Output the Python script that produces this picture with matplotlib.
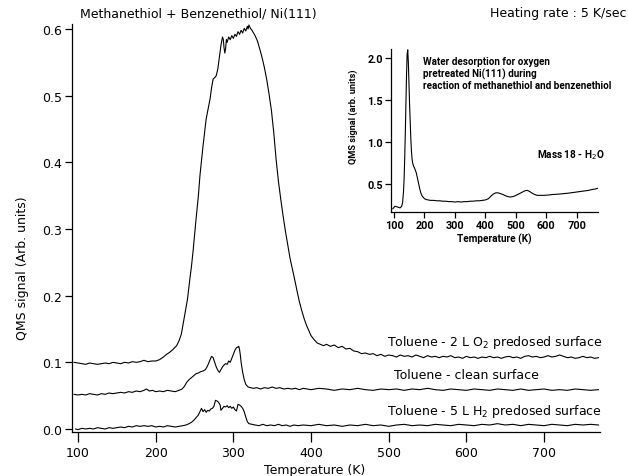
import matplotlib
matplotlib.use("Agg")
import matplotlib.pyplot as plt

# ---------------- main data: (temperature K, QMS signal) ----------------
toluene_o2 = [
    (95, 0.100), (100, 0.099), (105, 0.098), (110, 0.097), (115, 0.099), (120, 0.098), (125, 0.097),
    (130, 0.098), (135, 0.099), (140, 0.098), (145, 0.100), (150, 0.099), (155, 0.098), (160, 0.100),
    (165, 0.099), (170, 0.101), (175, 0.100), (180, 0.101), (185, 0.103), (190, 0.101), (195, 0.102),
    (200, 0.102), (205, 0.104), (210, 0.108), (214, 0.112), (218, 0.115), (222, 0.119), (227, 0.125),
    (230, 0.132), (233, 0.142), (235, 0.155), (238, 0.175), (241, 0.195), (244, 0.225), (246, 0.243),
    (248, 0.265), (250, 0.290), (252, 0.315), (255, 0.350), (257, 0.380), (259, 0.403), (261, 0.425),
    (263, 0.445), (265, 0.465), (268, 0.483), (270, 0.495), (272, 0.512), (274, 0.525), (276, 0.527),
    (278, 0.530), (280, 0.540), (282, 0.558), (284, 0.575), (286, 0.588), (287, 0.585), (288, 0.572),
    (289, 0.564), (290, 0.570), (291, 0.584), (292, 0.580), (294, 0.588), (296, 0.584), (298, 0.590),
    (300, 0.586), (302, 0.592), (304, 0.589), (306, 0.596), (308, 0.592), (310, 0.598), (312, 0.594),
    (314, 0.601), (316, 0.597), (318, 0.604), (319, 0.600), (320, 0.606), (322, 0.601), (324, 0.598),
    (326, 0.594), (328, 0.590), (331, 0.582), (334, 0.570), (337, 0.557), (340, 0.542), (343, 0.524),
    (346, 0.502), (349, 0.478), (352, 0.445), (355, 0.405), (358, 0.372), (361, 0.345), (364, 0.320),
    (367, 0.297), (370, 0.276), (373, 0.256), (376, 0.240), (379, 0.224), (382, 0.207), (385, 0.191),
    (388, 0.178), (391, 0.166), (394, 0.156), (397, 0.148), (400, 0.140), (404, 0.134), (408, 0.129),
    (412, 0.127), (416, 0.125), (420, 0.127), (425, 0.124), (430, 0.126), (435, 0.122), (440, 0.124),
    (445, 0.120), (450, 0.121), (455, 0.117), (460, 0.116), (465, 0.113), (470, 0.114), (475, 0.112),
    (480, 0.113), (485, 0.110), (490, 0.112), (495, 0.109), (500, 0.111), (505, 0.110), (510, 0.108),
    (515, 0.111), (520, 0.109), (525, 0.110), (530, 0.108), (535, 0.111), (540, 0.109), (545, 0.107),
    (550, 0.110), (555, 0.108), (560, 0.109), (565, 0.107), (570, 0.109), (575, 0.108), (580, 0.110),
    (585, 0.107), (590, 0.108), (595, 0.106), (600, 0.109), (605, 0.107), (610, 0.108), (615, 0.106),
    (620, 0.108), (625, 0.107), (630, 0.109), (635, 0.107), (640, 0.108), (645, 0.106), (650, 0.108),
    (655, 0.109), (660, 0.107), (665, 0.108), (670, 0.106), (675, 0.109), (680, 0.110), (685, 0.108),
    (690, 0.109), (695, 0.107), (700, 0.108), (705, 0.110), (710, 0.108), (715, 0.109), (720, 0.111),
    (725, 0.109), (730, 0.107), (735, 0.108), (740, 0.106), (745, 0.107), (750, 0.109), (755, 0.107),
    (760, 0.108), (765, 0.106), (770, 0.107),
]

toluene_clean = [
    (95, 0.052), (100, 0.051), (105, 0.052), (110, 0.051), (115, 0.053), (120, 0.052), (125, 0.051),
    (130, 0.053), (135, 0.052), (140, 0.054), (145, 0.053), (150, 0.054), (155, 0.055), (160, 0.054),
    (165, 0.056), (170, 0.055), (175, 0.057), (180, 0.056), (185, 0.058), (188, 0.060), (192, 0.057),
    (196, 0.058), (200, 0.056), (205, 0.057), (210, 0.056), (215, 0.058), (220, 0.057), (225, 0.056),
    (230, 0.058), (234, 0.060), (237, 0.064), (240, 0.070), (243, 0.074), (246, 0.077), (249, 0.080),
    (252, 0.083), (255, 0.084), (258, 0.086), (261, 0.087), (264, 0.089), (266, 0.093), (268, 0.098),
    (270, 0.104), (272, 0.109), (274, 0.107), (276, 0.100), (278, 0.093), (280, 0.088), (282, 0.085),
    (284, 0.089), (286, 0.093), (288, 0.096), (290, 0.098), (292, 0.097), (294, 0.102), (296, 0.100),
    (298, 0.106), (300, 0.112), (302, 0.118), (304, 0.122), (306, 0.123), (307, 0.124), (308, 0.119),
    (309, 0.111), (310, 0.100), (312, 0.085), (314, 0.074), (316, 0.067), (319, 0.063), (322, 0.062),
    (326, 0.061), (330, 0.062), (335, 0.060), (340, 0.062), (345, 0.061), (350, 0.063), (355, 0.061),
    (360, 0.062), (365, 0.060), (370, 0.061), (375, 0.060), (380, 0.061), (385, 0.059), (390, 0.061),
    (395, 0.060), (400, 0.059), (410, 0.061), (420, 0.060), (430, 0.058), (440, 0.060), (450, 0.059),
    (460, 0.061), (470, 0.059), (480, 0.058), (490, 0.060), (500, 0.059), (510, 0.060), (520, 0.058),
    (530, 0.060), (540, 0.059), (550, 0.061), (560, 0.059), (570, 0.058), (580, 0.060), (590, 0.059),
    (600, 0.058), (610, 0.060), (620, 0.059), (630, 0.058), (640, 0.060), (650, 0.059), (660, 0.058),
    (670, 0.060), (680, 0.058), (690, 0.059), (700, 0.060), (710, 0.058), (720, 0.059), (730, 0.058),
    (740, 0.060), (750, 0.059), (760, 0.058), (770, 0.059),
]

toluene_h2 = [
    (97, 0.000), (100, -0.001), (105, 0.001), (110, 0.000), (115, 0.001), (120, 0.000), (125, 0.002),
    (130, 0.001), (135, 0.000), (140, 0.002), (145, 0.001), (150, 0.002), (155, 0.003), (160, 0.002),
    (165, 0.004), (170, 0.003), (175, 0.005), (180, 0.004), (185, 0.005), (190, 0.004), (195, 0.005),
    (200, 0.003), (205, 0.004), (210, 0.003), (215, 0.005), (220, 0.004), (225, 0.003), (230, 0.004),
    (235, 0.005), (239, 0.006), (243, 0.008), (246, 0.010), (249, 0.013), (252, 0.017), (255, 0.021),
    (257, 0.026), (259, 0.031), (261, 0.026), (263, 0.029), (265, 0.025), (267, 0.028), (269, 0.027),
    (271, 0.030), (273, 0.031), (275, 0.034), (277, 0.043), (279, 0.042), (281, 0.040), (283, 0.036),
    (284, 0.028), (286, 0.031), (288, 0.034), (290, 0.033), (292, 0.035), (294, 0.032), (296, 0.034),
    (298, 0.031), (300, 0.033), (302, 0.029), (304, 0.027), (306, 0.037), (308, 0.036), (310, 0.034),
    (312, 0.031), (314, 0.026), (316, 0.018), (318, 0.011), (320, 0.008), (324, 0.007), (328, 0.006),
    (333, 0.005), (338, 0.007), (343, 0.005), (348, 0.006), (353, 0.005), (358, 0.007), (363, 0.005),
    (368, 0.006), (373, 0.004), (378, 0.006), (383, 0.005), (390, 0.006), (400, 0.005), (410, 0.007),
    (420, 0.005), (430, 0.006), (440, 0.004), (450, 0.006), (460, 0.005), (470, 0.007), (480, 0.005),
    (490, 0.006), (500, 0.004), (510, 0.006), (520, 0.007), (530, 0.005), (540, 0.006), (550, 0.005),
    (560, 0.007), (570, 0.006), (580, 0.005), (590, 0.007), (600, 0.006), (610, 0.005), (620, 0.007),
    (630, 0.006), (640, 0.008), (650, 0.006), (660, 0.007), (670, 0.005), (680, 0.007), (690, 0.006),
    (700, 0.005), (710, 0.007), (720, 0.006), (730, 0.005), (740, 0.007), (750, 0.006), (760, 0.007),
    (770, 0.006),
]

x_ticks = [100, 200, 300, 400, 500, 600, 700]
y_ticks = [0.0, 0.1, 0.2, 0.3, 0.4, 0.5, 0.6]

# ---------------- inset data: water (mass 18) ----------------
water_h2o = [
    (96, 0.20), (103, 0.23), (112, 0.22), (120, 0.21), (125, 0.23), (128, 0.27), (131, 0.40), (133, 0.55),
    (135, 0.80), (137, 1.10), (139, 1.45), (141, 1.80), (143, 2.05), (145, 2.10), (147, 1.95), (149, 1.70),
    (151, 1.45), (153, 1.25), (155, 1.05), (157, 0.90), (159, 0.80), (161, 0.75), (164, 0.71), (167, 0.69),
    (170, 0.66), (173, 0.63), (176, 0.58), (179, 0.53), (182, 0.48), (185, 0.43), (188, 0.39), (191, 0.36),
    (195, 0.34), (200, 0.32), (206, 0.31), (212, 0.305), (220, 0.30), (230, 0.30), (240, 0.295),
    (250, 0.295), (260, 0.29), (270, 0.29), (280, 0.285), (290, 0.285), (300, 0.28), (310, 0.285),
    (320, 0.28), (330, 0.285), (340, 0.285), (350, 0.29), (360, 0.29), (370, 0.295), (380, 0.295),
    (390, 0.30), (400, 0.305), (410, 0.32), (418, 0.35), (426, 0.375), (434, 0.39), (442, 0.39),
    (450, 0.38), (458, 0.37), (466, 0.355), (474, 0.345), (482, 0.34), (490, 0.345), (498, 0.355),
    (506, 0.37), (514, 0.385), (522, 0.40), (530, 0.415), (538, 0.42), (546, 0.405), (554, 0.385),
    (562, 0.37), (570, 0.36), (580, 0.36), (590, 0.36), (600, 0.362), (610, 0.365), (620, 0.37),
    (630, 0.372), (640, 0.375), (650, 0.378), (660, 0.382), (670, 0.385), (680, 0.39), (690, 0.395),
    (700, 0.40), (710, 0.405), (720, 0.41), (730, 0.415), (740, 0.42), (750, 0.43), (760, 0.435),
    (770, 0.445),
]
inset_x_ticks = [100, 200, 300, 400, 500, 600, 700]
inset_y_ticks = [0.5, 1.0, 1.5, 2.0]


def split(points):
    return [p[0] for p in points], [p[1] for p in points]


# ---------------- drawing ----------------
plt.rcParams['font.family'] = ['DejaVu Sans']
fig = plt.figure(figsize=(6.28, 4.77), dpi=100)
ax = fig.add_axes([72/628, 1 - 433/477, 528/628, 408/477])
lw = 0.8
for series in (toluene_o2, toluene_clean, toluene_h2):
    t, s = split(series)
    ax.plot(t, s, color='black', lw=lw)
ax.set_xlim(92.3, 772)
ax.set_ylim(-0.0045, 0.6075)
ax.set_xticks(x_ticks)
ax.set_yticks(y_ticks)
ax.set_yticklabels([f"{v:.1f}" for v in y_ticks])
for sp in ['top', 'right']:
    ax.spines[sp].set_visible(False)
for sp in ['left', 'bottom']:
    ax.spines[sp].set_linewidth(0.9)
ax.tick_params(axis='x', direction='out', length=7, width=0.9, labelsize=9, pad=3)
ax.tick_params(axis='y', direction='out', length=5, width=0.9, labelsize=9, pad=2)
ax.set_xlabel('Temperature (K)', fontsize=9)
ax.xaxis.set_label_coords((315 - 72) / 528, -(464 - 433) / 408)
ax.set_ylabel('QMS signal (Arb. units)', fontsize=9)
ax.yaxis.set_label_coords(-(72 - 29) / 528, 1 - (268 - 25) / 408)

fig.text(80/628, 1 - 14/477, 'Methanethiol + Benzenethiol/ Ni(111)', fontsize=9, ha='left', va='center')
fig.text(626/628, 1 - 14/477, 'Heating rate : 5 K/sec', fontsize=9, ha='right', va='center')

fig.text(602/628, 1 - 343/477, 'Toluene - 2 L O$_2$ predosed surface', fontsize=9, ha='right', va='center')
fig.text(539/628, 1 - 376/477, 'Toluene - clean surface', fontsize=9, ha='right', va='center')
fig.text(602/628, 1 - 412/477, 'Toluene - 5 L H$_2$ predosed surface', fontsize=9, ha='right', va='center')

# inset
inset_font = ['Roboto', 'DejaVu Sans']
ins = fig.add_axes([391/628, 1 - 212.5/477, 207/628, 162.5/477])
t, s = split(water_h2o)
ins.plot(t, s, color='black', lw=0.8)
ins.set_xlim(90, 770)
ins.set_ylim(0.167, 2.11)
ins.set_xticks(inset_x_ticks)
ins.set_yticks(inset_y_ticks)
ins.set_yticklabels([f"{v:.1f}" for v in inset_y_ticks])
for sp in ['top', 'right']:
    ins.spines[sp].set_visible(False)
for sp in ['left', 'bottom']:
    ins.spines[sp].set_linewidth(0.9)
ins.tick_params(direction='out', length=4, width=0.9, labelsize=7.8, pad=2)
for lab in ins.get_xticklabels() + ins.get_yticklabels():
    lab.set_fontweight('bold')
    lab.set_family(inset_font)
ins.set_xlabel('Temperature (K)', fontsize=7.2, family=inset_font, fontweight='bold', labelpad=2)
ins.set_ylabel('QMS signal (arb. units)', fontsize=6.6, family=inset_font, fontweight='bold')
ins.yaxis.set_label_coords(-(391 - 358) / 207, 1 - (117 - 50) / 162.5)
ins.text(423/628, 1 - 57/477, 'Water desorption for oxygen\npretreated Ni(111) during\nreaction of methanethiol and benzenethiol',
         transform=fig.transFigure, fontsize=7.1, family=inset_font, fontweight='bold',
         ha='left', va='top', linespacing=1.15)
ins.text(537/628, 1 - 155/477, 'Mass 18 - H$_2$O', transform=fig.transFigure, fontsize=7.2,
         family=inset_font, fontweight='bold', ha='left', va='center')

fig.savefig('out.png', dpi=100)
